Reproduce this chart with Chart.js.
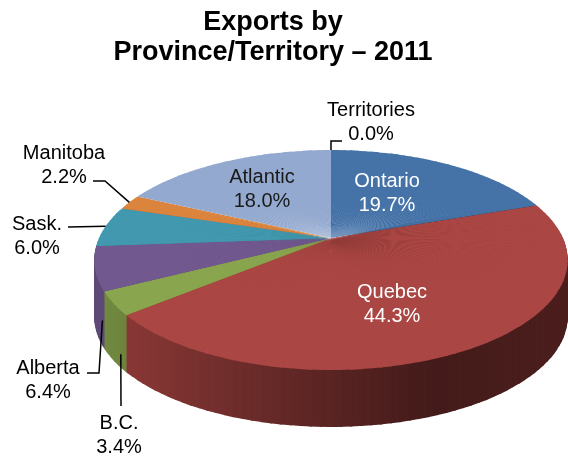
<!DOCTYPE html>
<html>
<head>
<meta charset="utf-8">
<title>Exports by Province/Territory – 2011</title>
<script src="https://cdn.jsdelivr.net/npm/chart.js@4.4.1/dist/chart.umd.min.js"></script>
<style>
  html, body { margin: 0; padding: 0; background: #fff; }
  #wrap { width: 568px; height: 456px; }
</style>
</head>
<body>
<div id="wrap"><canvas id="exportsPie" width="568" height="456"></canvas></div>
<script>
const provinces = ["Ontario", "Quebec", "B.C.", "Alberta", "Sask.", "Manitoba", "Atlantic", "Territories"];
const shares = [19.7, 44.3, 3.4, 6.4, 6.0, 2.2, 18.0, 0.0];
const sliceColors = ["#4572A7", "#AA4643", "#89A54E", "#71588F", "#4198AF", "#DB843D", "#93A9CF", "#B9CD96"];

// tilted disc seen in perspective: centre, half axes, perspective strength, wall height
const disc = { cx: 331, cy: 238, a: 232, b: 105.6, p: 0.2, depth: 57 };

// where each label block sits (centre of first line) and how its leader runs
const labelSpots = {
  "Ontario":     { x: 387, y: 181, color: "#fff" },
  "Quebec":      { x: 392, y: 292, color: "#fff" },
  "Atlantic":    { x: 262, y: 177, color: "#1a1a1a" },
  "Territories": { x: 371, y: 110, color: "#000", leader: [[331, 141], [342, 141]] },
  "Manitoba":    { x: 64, y: 153, color: "#000", leader: [[105, 181], [93, 181]] },
  "Sask.":       { x: 37, y: 224, color: "#000", leader: [[68, 227]] },
  "Alberta":     { x: 48, y: 368, color: "#000", front: true, leader: [[99, 373], [87, 373]] },
  "B.C.":        { x: 119, y: 423, color: "#000", front: true, leader: [[121, 406]] }
};

const FONT = "'Liberation Sans', Arial, sans-serif";

function project(u, v) {
  const w = 1 - disc.p * v;
  return { x: disc.cx + disc.a * u / w, y: disc.cy + disc.b * v / w };
}

function shade(hex, f) {
  const n = parseInt(hex.slice(1), 16);
  const r = Math.round(((n >> 16) & 255) * f);
  const g = Math.round(((n >> 8) & 255) * f);
  const b = Math.round((n & 255) * f);
  return `rgb(${r},${g},${b})`;
}

// walls are lit from the left and fall off towards the right
function wallFactor(x) {
  const stops = [[94, 0.85], [250, 0.63], [430, 0.40], [568, 0.45]];
  if (x <= stops[0][0]) return stops[0][1];
  for (let i = 1; i < stops.length; i++) {
    if (x <= stops[i][0]) {
      const [x0, f0] = stops[i - 1], [x1, f1] = stops[i];
      return f0 + (f1 - f0) * (x - x0) / (x1 - x0);
    }
  }
  return stops[stops.length - 1][1];
}

const tiltedPie = {
  id: "tiltedPie",
  beforeDatasetsDraw(chart) {
    const ctx = chart.ctx;
    const arcs = chart.getDatasetMeta(0).data;
    const ox = arcs[0].x, oy = arcs[0].y, R = arcs[0].outerRadius;
    const base = ctx.getTransform();
    const step = Math.PI / 90;
    const pad = 0.004;

    for (let d = disc.depth; d >= 0; d--) {
      for (let k = 0; k < 180; k++) {
        const a1 = -Math.PI / 2 + k * step, a2 = a1 + step, mid = a1 + step / 2;
        if (d > 0 && Math.sin(mid) < -0.4) continue;

        const e1x = Math.cos(a1), e1y = Math.sin(a1), e2x = Math.cos(a2), e2y = Math.sin(a2);
        const p1 = project(e1x, e1y), p2 = project(e2x, e2y);
        const s1x = p1.x - disc.cx, s1y = p1.y - disc.cy, s2x = p2.x - disc.cx, s2y = p2.y - disc.cy;
        const det = R * Math.sin(a2 - a1);
        const l11 = (s1x * e2y - s2x * e1y) / det, l12 = (s2x * e1x - s1x * e2x) / det;
        const l21 = (s1y * e2y - s2y * e1y) / det, l22 = (s2y * e1x - s1y * e2x) / det;
        const tx = disc.cx - (l11 * ox + l12 * oy), ty = disc.cy + d - (l21 * ox + l22 * oy);

        ctx.save();
        ctx.beginPath();
        ctx.moveTo(disc.cx, disc.cy + d);
        [a1 - pad, mid, a2 + pad].forEach(a => {
          const q = project(Math.cos(a), Math.sin(a));
          ctx.lineTo(disc.cx + 1.3 * (q.x - disc.cx), disc.cy + d + 1.3 * (q.y - disc.cy));
        });
        ctx.closePath();
        ctx.clip();
        ctx.setTransform(base.multiply(new DOMMatrix([l11, l21, l12, l22, tx, ty])));

        const wf = wallFactor(project(Math.cos(mid), Math.sin(mid)).x);
        arcs.forEach((arc, i) => {
          if (arc.endAngle <= arc.startAngle) return;
          if (arc.startAngle > a2 + pad || arc.endAngle < a1 - pad) return;
          if (d === 0) {
            arc.draw(ctx);
          } else {
            const ghost = Object.create(arc);
            ghost.options = Object.assign({}, arc.options, { backgroundColor: shade(sliceColors[i], wf) });
            ghost.draw(ctx);
          }
        });
        ctx.restore();
      }
    }
    return false;
  },
  afterDraw(chart) {
    const ctx = chart.ctx;
    const arcs = chart.getDatasetMeta(0).data;
    ctx.save();
    ctx.font = `20px ${FONT}`;
    ctx.textAlign = "center";
    ctx.textBaseline = "middle";
    provinces.forEach((name, i) => {
      const spot = labelSpots[name];
      const arc = arcs[i];
      if (spot.leader) {
        const m = (arc.startAngle + arc.endAngle) / 2;
        const k = spot.front ? 0.97 : 1;
        const q = project(k * Math.cos(m), k * Math.sin(m));
        const start = spot.front ? { x: q.x, y: q.y + disc.depth - 4 } : q;
        ctx.beginPath();
        ctx.moveTo(start.x, start.y);
        spot.leader.forEach(([x, y]) => ctx.lineTo(x, y));
        ctx.strokeStyle = "#000";
        ctx.lineWidth = 1.5;
        ctx.stroke();
      }
      ctx.fillStyle = spot.color;
      ctx.fillText(name, spot.x, spot.y);
      ctx.fillText(shares[i].toFixed(1) + "%", spot.x, spot.y + 24);
    });
    ctx.restore();
  }
};

new Chart(document.getElementById("exportsPie"), {
  type: "pie",
  data: {
    labels: provinces,
    datasets: [{ data: shares, backgroundColor: sliceColors, borderWidth: 0 }]
  },
  options: {
    responsive: false,
    animation: false,
    events: [],
    layout: { padding: { right: 22 } },
    plugins: {
      legend: { display: false },
      tooltip: { enabled: false },
      title: {
        display: true,
        text: ["Exports by", "Province/Territory – 2011"],
        color: "#000",
        font: { family: FONT, size: 27, weight: "bold", lineHeight: 1.1 },
        padding: { top: 8, bottom: 0 }
      }
    }
  },
  plugins: [tiltedPie]
});
</script>
</body>
</html>
